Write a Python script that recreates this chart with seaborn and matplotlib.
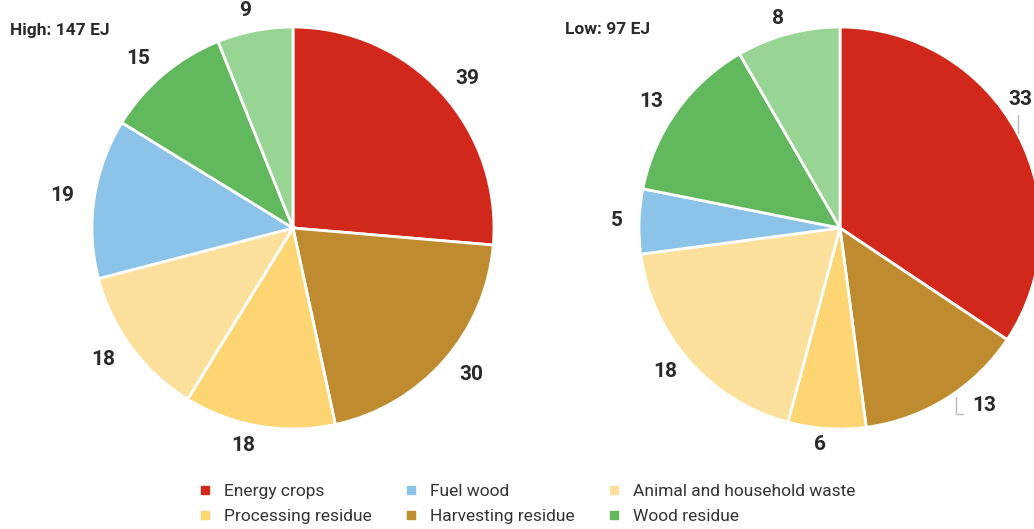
import matplotlib
matplotlib.use("Agg")
import matplotlib.pyplot as plt
import seaborn as sns

# categories in clockwise order starting from 12 o'clock
categories = ["Energy crops", "Harvesting residue", "Processing residue",
              "Animal and household waste", "Fuel wood", "Wood residue", "Other"]
high_values = [39, 30, 18, 18, 19, 15, 9]
low_values = [33, 13, 6, 18, 5, 13, 8]
high_title = "High: 147 EJ"
low_title = "Low: 97 EJ"

colors = sns.color_palette(["#D2281B", "#BE8C2E", "#FDD572", "#FDE09C",
                            "#8BC4E8", "#62B85D", "#98D595"])

sns.set_theme(style="white")
plt.rcParams["font.family"] = ["Roboto", "DejaVu Sans"]

fig = plt.figure(figsize=(10.34, 5.29), dpi=100)
W, H = 1034, 529
R = 201


def pie_axes(cx, cy):
    return fig.add_axes([(cx - R) / W, (H - cy - R) / H, 2 * R / W, 2 * R / H])


text_col = "#2a2a2a"


def draw_pie(ax, values, dist):
    wedges, texts = ax.pie(
        values, labels=[str(v) for v in values], colors=colors,
        startangle=90, counterclock=False, labeldistance=dist,
        wedgeprops=dict(edgecolor="white", linewidth=2),
        textprops=dict(fontsize=15, fontweight="bold", color=text_col),
    )
    for w in wedges:
        w.set_clip_on(False)
    ax.set_xlim(-1, 1)
    ax.set_ylim(-1, 1)
    return wedges, texts


ax1 = pie_axes(293, 228)
draw_pie(ax1, high_values, 1.1)

ax2 = pie_axes(840, 228)
_, texts2 = draw_pie(ax2, low_values, 1.08)
# labels that would fall off the edge get moved in with small leaders
texts2[0].set_position((0.955, 0.64))
texts2[0].set_ha("right")
ax2.plot([0.886, 0.886], [0.56, 0.475], color="#bbbbbb", lw=1, clip_on=False)
texts2[1].set_position((0.66, -0.885))
ax2.plot([0.61, 0.575, 0.575], [-0.925, -0.925, -0.84], color="#bbbbbb",
         lw=1, clip_on=False)

fig.text(10 / W, 1 - 30 / H, high_title, fontsize=12.5, fontweight="bold",
         color=text_col, va="center", ha="left")
fig.text(565 / W, 1 - 30 / H, low_title, fontsize=12.5, fontweight="bold",
         color=text_col, va="center", ha="left")

# legend: matplotlib fills columns first
order = [0, 2, 4, 1, 3, 5]
handles = [plt.Line2D([], [], marker="s", linestyle="", markersize=6,
                      color=colors[i]) for i in order]
labels = [categories[i] for i in order]
fig.legend(handles, labels, loc="lower left", bbox_to_anchor=(181 / W, -0.021),
           ncol=3, frameon=False, fontsize=12.5, handletextpad=0.6,
           columnspacing=1.75, labelspacing=0.6, handlelength=1.0,
           labelcolor="#333333")

fig.savefig("out.png", dpi=100)
